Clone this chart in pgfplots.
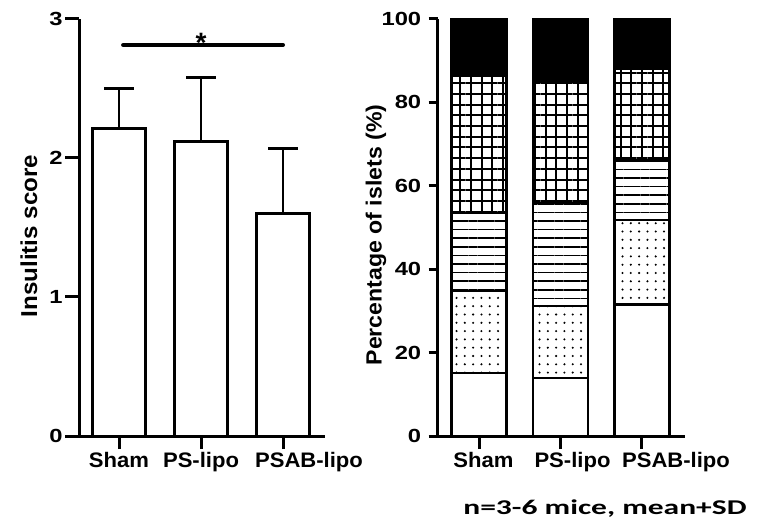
\documentclass[border=0pt]{standalone}
\usepackage{fontspec}
\setmainfont{Liberation Sans}
\newfontfamily\tickf{Liberation Sans}[FakeStretch=1.25]
\newfontfamily\labf{Liberation Sans}[FakeStretch=1.05]
\newfontfamily\notef{Carlito}[FakeStretch=1.5]
\usepackage{pgfplots}
\pgfplotsset{compat=1.18}
\usetikzlibrary{patterns.meta}
\pgfplotsset{
  base/.style={
    scale only axis, height=417pt,
    axis lines=left, axis line style={-, line width=3pt},
    clip=false, ymin=0,
    tick style={line width=3pt, black},
    tick align=outside,
    major tick length=13pt,
    xtick={0,1,2},
    minor tick num=0,
    /pgf/number format/assume math mode=true,
    yticklabel style={font=\tickf\bfseries\fontsize{19}{22}\selectfont},
    xticklabel style={font=\labf\bfseries\fontsize{21}{25}\selectfont},
  },
  seg/.style={draw=black, line width=2.7pt},
}
\begin{document}
\begin{tikzpicture}
\useasboundingbox (0,0) rectangle (762pt,522pt);
% left panel
\begin{axis}[base, at={(79pt,86pt)}, anchor=south west,
  width=246pt, xmin=-0.488, xmax=2.512, ymax=3, ytick={0,1,2,3},
  ytick style={/pgfplots/major tick length=14pt},
  xticklabels={{Sham},{PS-lipo},{\hspace*{52pt}PSAB-lipo}}]
\addplot[ybar, bar width=53pt, fill=white, draw=black, line width=2.7pt,
  error bars/.cd, y dir=plus, y explicit, error mark=|,
  error bar style={line width=2.7pt},
  error mark options={line width=2.7pt, mark size=15pt}]
  coordinates {(0,2.21) +- (0,0.29) (1,2.12) +- (0,0.46) (2,1.60) +- (0,0.47)};
\addplot[sharp plot, line width=4pt, line cap=round, mark=none]
  coordinates {(0.05,2.813) (2.0,2.813)};
\node[font=\bfseries\fontsize{28}{30}\selectfont, anchor=base, inner sep=0pt, yshift=-8pt]
  at (axis cs:1,2.813) {*};
\end{axis}
% right panel
\begin{axis}[base, at={(437.7pt,86pt)}, anchor=south west,
  width=247.3pt, xmin=-0.507, xmax=2.528, ymax=100, ytick={0,20,...,100},
  ytick style={/pgfplots/major tick length=9pt},
  ybar stacked, bar width=55pt,
  xticklabels={{\hspace*{9pt}Sham},{\hspace*{24pt}PS-lipo},{\hspace*{68pt}PSAB-lipo}}]
\addplot[seg, fill=white] coordinates {(0,15.1) (1,13.9) (2,31.6)};
\addplot[seg, pattern={Dots[distance=8.3pt, radius=1.15pt]}] coordinates {(0,19.7) (1,17.3) (2,20.2)};
\addplot[seg, pattern={Lines[distance=8.6pt, angle=0, line width=1.5pt]}] coordinates {(0,18.7) (1,24.7) (2,14.2)};
\addplot[seg, pattern={Hatch[distance=10.7pt, angle=0, line width=2pt]}] coordinates {(0,32.9) (1,29.1) (2,22.1)};
\addplot[seg, fill=black] coordinates {(0,13.6) (1,15.0) (2,11.9)};
\end{axis}
\node[rotate=90, font=\labf\bfseries\fontsize{23}{27}\selectfont] at (29pt,286pt) {Insulitis score};
\node[rotate=90, font=\labf\bfseries\fontsize{22}{26}\selectfont] at (376pt,287pt) {Percentage of islets (\%)};
\node[font=\notef\bfseries\fontsize{21}{25}\selectfont] at (605pt,13pt) {n=3-6 mice, mean+SD};
\end{tikzpicture}
\end{document}
